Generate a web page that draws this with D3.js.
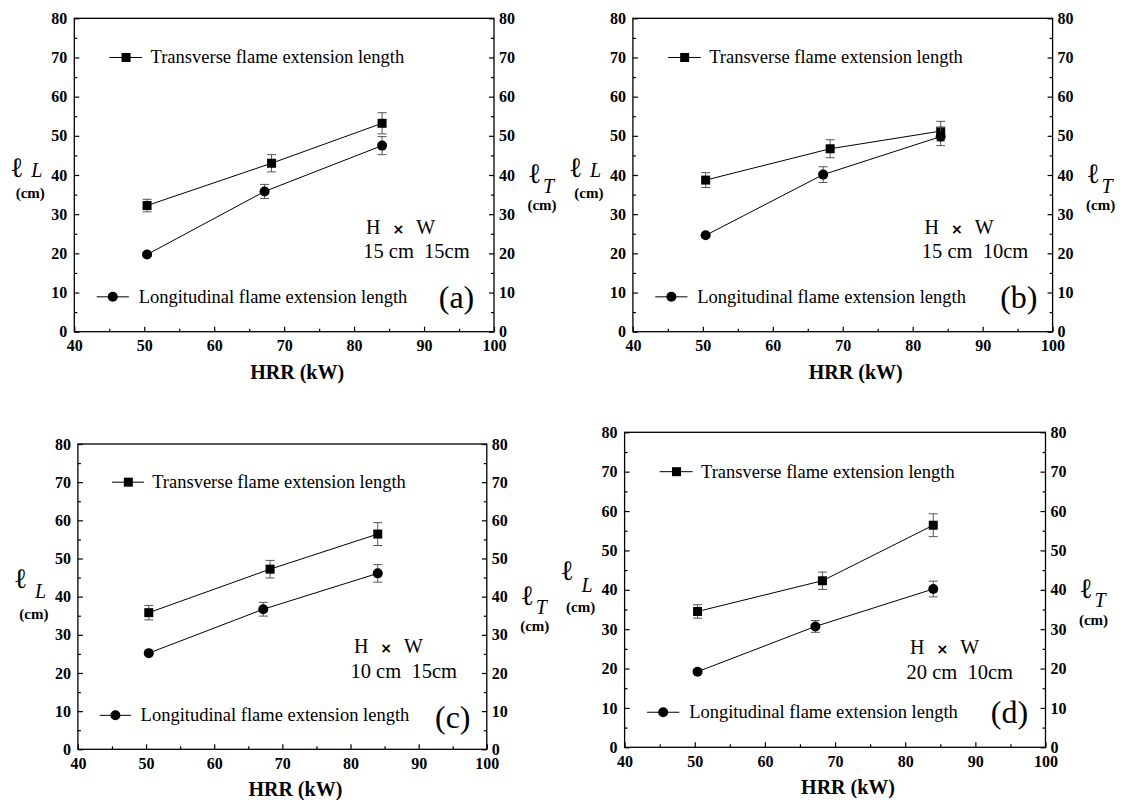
<!DOCTYPE html>
<html>
<head>
<meta charset="utf-8">
<script src="https://cdn.jsdelivr.net/npm/d3@7"></script>
<style>
  body { margin: 0; background: #fff; }
</style>
</head>
<body>
<div id="chart"></div>
<script>
// Data (HRR in kW, lengths in cm)
var hrrTransverse = [50.4, 68.2, 84.0];
var hrrLongitudinal = [50.4, 67.2, 84.0];

var transverse = [
  [32.2, 43.0, 53.2],
  [38.7, 46.7, 51.2],
  [35.8, 47.2, 56.4],
  [34.5, 42.3, 56.4]
];
var transverseErr = [
  [1.6, 2.2, 2.7],
  [1.9, 2.3, 2.5],
  [1.9, 2.3, 3.0],
  [1.7, 2.2, 2.9]
];
var longitudinal = [
  [19.7, 35.8, 47.5],
  [24.6, 40.1, 49.8],
  [25.2, 36.7, 46.1],
  [19.2, 30.7, 40.2]
];
var longitudinalErr = [
  [0.4, 1.8, 2.3],
  [0.4, 2.0, 2.3],
  [0.4, 1.8, 2.3],
  [0.4, 1.5, 2.0]
];

var panelLetters = ["(a)", "(b)", "(c)", "(d)"];
var sizeLabels = ["15 cm  15cm", "15 cm  10cm", "10 cm  15cm", "20 cm  10cm"];
var xTicks = [40, 50, 60, 70, 80, 90, 100];
var yTicks = [0, 10, 20, 30, 40, 50, 60, 70, 80];

// Layout of each panel on the page (pixels) plus text anchors
var panels = [
  {x: 74.3, y: 18.3, w: 419.7, h: 313.4, ell: 0.506, hw: [81.7, 25.0, 81.3, 18.7], letter: [92.1, 6.0]},
  {x: 632.9, y: 18.3, w: 419.7, h: 313.4, ell: 0.506, hw: [81.7, 25.0, 81.3, 18.7], letter: [92.5, 6.0]},
  {x: 77.9, y: 444.0, w: 408.9, h: 305.3, ell: 0.473, hw: [80.5, 25.2, 80.0, 18.6], letter: [92.4, 5.5]},
  {x: 624.6, y: 432.3, w: 420.9, h: 315.0, ell: 0.469, hw: [80.7, 23.7, 80.2, 17.3], letter: [92.2, 6.1]}
];

var serif = "'Liberation Serif', 'Times New Roman', Times, serif";

var svgWidth = 1123;
var svgHeight = 800;

var svg = d3.select("#chart")
  .append("svg")
  .attr("width", svgWidth)
  .attr("height", svgHeight);

panels.forEach(function(p, i) {
  var g = svg.append("g")
    .attr("transform", `translate(${p.x}, ${p.y})`);

  var xScale = d3.scaleLinear().domain([40, 100]).range([0, p.w]);
  var yScale = d3.scaleLinear().domain([0, 80]).range([p.h, 0]);

  // major + minor ticks, pointing inward
  var minorX = d3.range(45, 100, 10);
  var minorY = d3.range(5, 80, 10);

  var bottom = g.append("g")
    .attr("transform", `translate(0, ${p.h})`)
    .call(d3.axisBottom(xScale).tickValues(xTicks).tickSize(-5).tickPadding(6).tickFormat(d3.format("d")));
  g.append("g")
    .attr("transform", `translate(0, ${p.h})`)
    .call(d3.axisBottom(xScale).tickValues(minorX).tickSize(-3).tickFormat(""));

  g.append("g")
    .call(d3.axisLeft(yScale).tickValues(yTicks).tickSize(-5).tickPadding(7));
  g.append("g")
    .call(d3.axisLeft(yScale).tickValues(minorY).tickSize(-3).tickFormat(""));

  g.append("g")
    .attr("transform", `translate(${p.w}, 0)`)
    .call(d3.axisRight(yScale).tickValues(yTicks).tickSize(-5).tickPadding(5));
  g.append("g")
    .attr("transform", `translate(${p.w}, 0)`)
    .call(d3.axisRight(yScale).tickValues(minorY).tickSize(-3).tickFormat(""));

  g.selectAll(".domain").remove();
  g.selectAll(".tick line").attr("stroke", "#000").attr("stroke-width", 1.2);
  g.selectAll(".tick text")
    .style("font-family", serif)
    .style("font-weight", "bold")
    .style("font-size", "16px")
    .attr("fill", "#000");
  bottom.selectAll(".tick text").attr("dy", "0.85em");

  // frame
  g.append("rect")
    .attr("width", p.w)
    .attr("height", p.h)
    .attr("fill", "none")
    .attr("stroke", "#000")
    .attr("stroke-width", 1.3);

  var line = d3.line()
    .x(d => xScale(d[0]))
    .y(d => yScale(d[1]));

  var series = [
    {xs: hrrTransverse, ys: transverse[i], err: transverseErr[i], shape: "square"},
    {xs: hrrLongitudinal, ys: longitudinal[i], err: longitudinalErr[i], shape: "circle"}
  ];

  series.forEach(function(s) {
    var pts = s.xs.map((x, k) => [x, s.ys[k], s.err[k]]);

    g.append("path")
      .datum(pts)
      .attr("d", line)
      .attr("fill", "none")
      .attr("stroke", "#000")
      .attr("stroke-width", 1);

    // error bars
    var eb = g.selectAll(null)
      .data(pts)
      .enter()
      .append("g")
      .attr("stroke", "#555")
      .attr("stroke-width", 1);
    eb.append("line")
      .attr("x1", d => xScale(d[0])).attr("x2", d => xScale(d[0]))
      .attr("y1", d => yScale(d[1] - d[2])).attr("y2", d => yScale(d[1] + d[2]));
    eb.append("line")
      .attr("x1", d => xScale(d[0]) - 4.5).attr("x2", d => xScale(d[0]) + 4.5)
      .attr("y1", d => yScale(d[1] + d[2])).attr("y2", d => yScale(d[1] + d[2]));
    eb.append("line")
      .attr("x1", d => xScale(d[0]) - 4.5).attr("x2", d => xScale(d[0]) + 4.5)
      .attr("y1", d => yScale(d[1] - d[2])).attr("y2", d => yScale(d[1] - d[2]));

    if (s.shape == "square") {
      g.selectAll(null)
        .data(pts)
        .enter()
        .append("rect")
        .attr("x", d => xScale(d[0]) - 4.5)
        .attr("y", d => yScale(d[1]) - 4.5)
        .attr("width", 9)
        .attr("height", 9)
        .attr("fill", "#000");
    } else {
      g.selectAll(null)
        .data(pts)
        .enter()
        .append("circle")
        .attr("cx", d => xScale(d[0]))
        .attr("cy", d => yScale(d[1]))
        .attr("r", 5)
        .attr("fill", "#000");
    }
  });

  // legend entries
  var legend = [
    {y: 70, x1: 45.0, x2: 49.7, xm: 47.4, xt: 50.9, shape: "square", text: "Transverse flame extension length"},
    {y: 8.9, x1: 43.2, x2: 47.8, xm: 45.5, xt: 49.2, shape: "circle", text: "Longitudinal flame extension length"}
  ];
  legend.forEach(function(l) {
    g.append("line")
      .attr("x1", xScale(l.x1)).attr("x2", xScale(l.x2))
      .attr("y1", yScale(l.y)).attr("y2", yScale(l.y))
      .attr("stroke", "#000");
    if (l.shape == "square") {
      g.append("rect")
        .attr("x", xScale(l.xm) - 4.5).attr("y", yScale(l.y) - 4.5)
        .attr("width", 9).attr("height", 9);
    } else {
      g.append("circle")
        .attr("cx", xScale(l.xm)).attr("cy", yScale(l.y)).attr("r", 5);
    }
    g.append("text")
      .attr("x", xScale(l.xt))
      .attr("y", yScale(l.y) + 6)
      .style("font-family", serif)
      .style("font-size", "18.5px")
      .text(l.text);
  });

  // H x W annotation
  var hw = g.append("text")
    .attr("x", xScale(p.hw[0]))
    .attr("y", yScale(p.hw[1]))
    .style("font-family", serif)
    .style("font-size", "20px");
  hw.append("tspan").text("H");
  hw.append("tspan")
    .attr("dx", 12)
    .style("font-family", "'DejaVu Sans', sans-serif")
    .style("font-weight", "bold")
    .style("font-size", "14px")
    .text("×");
  hw.append("tspan").attr("dx", 12).text("W");

  g.append("text")
    .attr("x", xScale(p.hw[2]))
    .attr("y", yScale(p.hw[3]))
    .style("font-family", serif)
    .style("font-size", "20.5px")
    .style("white-space", "pre")
    .text(sizeLabels[i]);

  g.append("text")
    .attr("x", xScale(p.letter[0]))
    .attr("y", yScale(p.letter[1]))
    .style("font-family", serif)
    .style("font-size", "32px")
    .text(panelLetters[i]);

  // axis title
  g.append("text")
    .attr("x", p.w / 2 + 13)
    .attr("y", p.h + 47)
    .attr("text-anchor", "middle")
    .style("font-family", serif)
    .style("font-size", "20px")
    .style("font-weight", "bold")
    .text("HRR (kW)");

  // left: l_L (cm)
  g.append("text")
    .attr("x", -64)
    .attr("y", p.h * p.ell)
    .style("font-family", serif)
    .style("font-size", "28px")
    .text("ℓ");
  g.append("text")
    .attr("x", -43)
    .attr("y", p.h * 0.506)
    .style("font-family", serif)
    .style("font-size", "20px")
    .style("font-style", "italic")
    .text("L");
  g.append("text")
    .attr("x", -44)
    .attr("y", p.h * 0.572)
    .attr("text-anchor", "middle")
    .style("font-family", serif)
    .style("font-size", "15px")
    .style("font-weight", "bold")
    .text("(cm)");

  // right: l_T (cm)
  g.append("text")
    .attr("x", p.w + 34)
    .attr("y", p.h * 0.527)
    .style("font-family", serif)
    .style("font-size", "28px")
    .text("ℓ");
  g.append("text")
    .attr("x", p.w + 49)
    .attr("y", p.h * 0.556)
    .style("font-family", serif)
    .style("font-size", "20px")
    .style("font-style", "italic")
    .text("T");
  g.append("text")
    .attr("x", p.w + 48)
    .attr("y", p.h * 0.613)
    .attr("text-anchor", "middle")
    .style("font-family", serif)
    .style("font-size", "15px")
    .style("font-weight", "bold")
    .text("(cm)");
});
</script>
</body>
</html>
